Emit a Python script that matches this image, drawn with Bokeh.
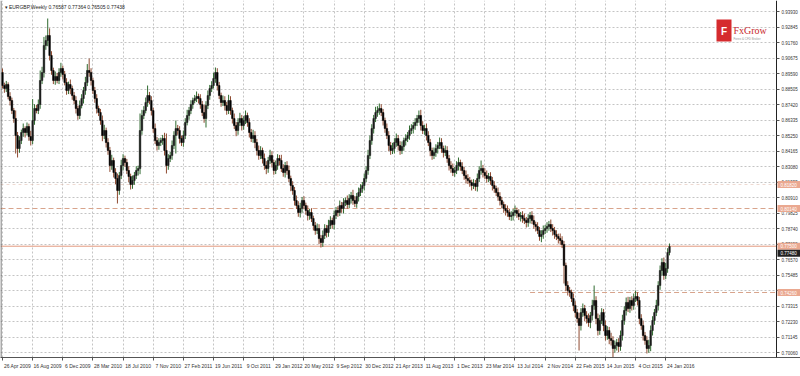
from bokeh.plotting import figure
from bokeh.models import Range1d, FixedTicker, PrintfTickFormatter, Label, Span, ColumnDataSource, BoxAnnotation
from bokeh.embed import file_html
from bokeh.resources import INLINE

# ---------------- data (EURGBP weekly) ----------------
first_open = 0.8966
close = [
    0.8875, 0.8854, 0.8882, 0.8798, 0.8770, 0.8700, 0.8644, 0.8525, 0.8434, 0.8490,
    0.8546, 0.8574, 0.8546, 0.8588, 0.8518, 0.8490, 0.8630, 0.8714, 0.8700, 0.8742,
    0.8910, 0.8966, 0.9155, 0.9190, 0.9225, 0.9085, 0.8980, 0.8910, 0.8938, 0.8910,
    0.8966, 0.8994, 0.8952, 0.8896, 0.8840, 0.8882, 0.8854, 0.8805, 0.8770, 0.8714,
    0.8665, 0.8735, 0.8784, 0.8840, 0.8896, 0.8980, 0.8966, 0.8910, 0.8840, 0.8784,
    0.8714, 0.8686, 0.8630, 0.8525, 0.8560, 0.8476, 0.8420, 0.8315, 0.8350, 0.8266,
    0.8224, 0.8140, 0.8245, 0.8315, 0.8364, 0.8336, 0.8280, 0.8238, 0.8182, 0.8210,
    0.8245, 0.8280, 0.8294, 0.8560, 0.8665, 0.8700, 0.8756, 0.8805, 0.8770, 0.8700,
    0.8574, 0.8490, 0.8455, 0.8476, 0.8490, 0.8504, 0.8420, 0.8315, 0.8364, 0.8385,
    0.8455, 0.8525, 0.8574, 0.8560, 0.8504, 0.8476, 0.8525, 0.8616, 0.8665, 0.8700,
    0.8742, 0.8770, 0.8784, 0.8798, 0.8784, 0.8742, 0.8686, 0.8644, 0.8735, 0.8805,
    0.8854, 0.8875, 0.8924, 0.8966, 0.8875, 0.8805, 0.8756, 0.8770, 0.8735, 0.8700,
    0.8770, 0.8700, 0.8644, 0.8595, 0.8560, 0.8616, 0.8644, 0.8595, 0.8630, 0.8665,
    0.8616, 0.8546, 0.8504, 0.8525, 0.8476, 0.8420, 0.8385, 0.8420, 0.8364, 0.8315,
    0.8294, 0.8350, 0.8385, 0.8336, 0.8280, 0.8315, 0.8364, 0.8350, 0.8294, 0.8266,
    0.8315, 0.8280, 0.8224, 0.8175, 0.8140, 0.8070, 0.8035, 0.7986, 0.8014, 0.8070,
    0.8035, 0.8000, 0.7965, 0.7986, 0.7944, 0.7895, 0.7860, 0.7874, 0.7804, 0.7776,
    0.7825, 0.7874, 0.7846, 0.7895, 0.7930, 0.7902, 0.7965, 0.8000, 0.7986, 0.8035,
    0.8014, 0.8056, 0.8070, 0.8042, 0.8084, 0.8105, 0.8070, 0.8049, 0.8098, 0.8126,
    0.8154, 0.8175, 0.8224, 0.8280, 0.8385, 0.8490, 0.8574, 0.8644, 0.8686, 0.8700,
    0.8714, 0.8686, 0.8630, 0.8574, 0.8525, 0.8455, 0.8420, 0.8434, 0.8476, 0.8504,
    0.8455, 0.8420, 0.8448, 0.8490, 0.8504, 0.8525, 0.8560, 0.8574, 0.8595, 0.8616,
    0.8644, 0.8665, 0.8595, 0.8560, 0.8574, 0.8525, 0.8476, 0.8420, 0.8385, 0.8406,
    0.8434, 0.8455, 0.8476, 0.8434, 0.8406, 0.8420, 0.8364, 0.8315, 0.8294, 0.8266,
    0.8280, 0.8315, 0.8336, 0.8308, 0.8280, 0.8245, 0.8224, 0.8210, 0.8196, 0.8175,
    0.8189, 0.8168, 0.8224, 0.8280, 0.8294, 0.8266, 0.8245, 0.8224, 0.8238, 0.8210,
    0.8175, 0.8154, 0.8126, 0.8098, 0.8070, 0.8042, 0.8014, 0.8000, 0.7986, 0.7958,
    0.7965, 0.7986, 0.8000, 0.7979, 0.7958, 0.7965, 0.7944, 0.7930, 0.7916, 0.7944,
    0.7965, 0.7930, 0.7902, 0.7888, 0.7860, 0.7818, 0.7832, 0.7860, 0.7874, 0.7888,
    0.7902, 0.7874, 0.7860, 0.7832, 0.7818, 0.7804, 0.7790, 0.7762, 0.7615, 0.7475,
    0.7440, 0.7426, 0.7384, 0.7335, 0.7286, 0.7244, 0.7195, 0.7286, 0.7314, 0.7265,
    0.7244, 0.7216, 0.7265, 0.7335, 0.7370, 0.7244, 0.7160, 0.7230, 0.7286, 0.7195,
    0.7125, 0.7160, 0.7104, 0.7090, 0.7034, 0.7055, 0.7076, 0.7048, 0.7125, 0.7230,
    0.7300, 0.7356, 0.7314, 0.7370, 0.7335, 0.7384, 0.7398, 0.7370, 0.7244, 0.7195,
    0.7125, 0.7090, 0.7034, 0.7055, 0.7160, 0.7230, 0.7286, 0.7335, 0.7475, 0.7580,
    0.7636, 0.7545, 0.7594, 0.7706, 0.7748,
]
upper_wick_pips = [
    28, 20, 25, 15, 30, 20, 18, 56, 25, 30,
    20, 35, 15, 28, 20, 40, 150, 30, 25, 35,
    70, 40, 60, 35, 119, 50, 30, 20, 35, 25,
    30, 40, 20, 25, 30, 20, 35, 20, 25, 30,
    20, 35, 30, 25, 40, 45, 84, 30, 20, 25,
    30, 20, 25, 35, 40, 20, 30, 25, 40, 20,
    30, 35, 25, 40, 30, 20, 25, 30, 20, 35,
    25, 30, 20, 119, 40, 30, 35, 70, 25, 30,
    20, 35, 25, 30, 20, 25, 40, 119, 30, 25,
    35, 30, 56, 25, 30, 20, 35, 30, 40, 25,
    30, 20, 25, 35, 20, 30, 25, 56, 30, 35,
    25, 30, 40, 35, 30, 25, 20, 35, 30, 25,
    40, 30, 20, 35, 25, 30, 40, 25, 30, 35,
    20, 30, 25, 40, 30, 25, 35, 30, 20, 35,
    30, 25, 40, 30, 20, 35, 30, 25, 40, 30,
    25, 30, 35, 20, 30, 25, 35, 30, 40, 25,
    30, 20, 35, 25, 30, 20, 25, 35, 30, 25,
    35, 30, 25, 40, 30, 20, 35, 25, 30, 35,
    25, 30, 20, 35, 30, 25, 40, 30, 25, 35,
    30, 25, 35, 30, 40, 35, 30, 25, 40, 30,
    35, 30, 25, 20, 35, 30, 25, 40, 30, 35,
    25, 30, 35, 20, 30, 25, 35, 30, 25, 30,
    25, 35, 40, 30, 25, 35, 30, 25, 20, 35,
    30, 25, 35, 30, 20, 35, 30, 25, 30, 35,
    25, 30, 35, 20, 30, 25, 35, 30, 25, 20,
    30, 25, 35, 30, 56, 25, 30, 35, 25, 30,
    25, 30, 20, 35, 30, 25, 20, 30, 35, 25,
    30, 25, 35, 20, 30, 25, 30, 35, 25, 30,
    25, 30, 35, 20, 30, 25, 30, 35, 25, 30,
    25, 35, 30, 25, 30, 20, 35, 30, 25, 20,
    30, 25, 20, 35, 30, 25, 40, 30, 35, 25,
    30, 35, 25, 40, 105, 30, 35, 40, 30, 25,
    35, 30, 25, 40, 30, 35, 25, 30, 35, 40,
    30, 35, 40, 25, 30, 35, 42, 30, 25, 30,
    35, 25, 30, 40, 35, 30, 25, 40, 30, 35,
    30, 35, 40, 30, 21,
]
lower_wick_pips = [
    20, 30, 25, 20, 35, 25, 30, 126, 63, 30,
    25, 30, 35, 20, 30, 35, 25, 30, 20, 25,
    30, 25, 35, 30, 40, 35, 30, 25, 30, 20,
    25, 30, 35, 20, 30, 25, 40, 30, 25, 35,
    30, 25, 20, 35, 30, 25, 30, 35, 25, 30,
    35, 25, 30, 40, 25, 35, 30, 45, 30, 35,
    40, 91, 30, 25, 35, 30, 25, 40, 35, 30,
    30, 25, 35, 40, 30, 25, 20, 30, 25, 35,
    30, 25, 35, 30, 25, 30, 35, 56, 30, 25,
    30, 25, 126, 30, 35, 25, 30, 25, 20, 30,
    25, 30, 20, 25, 35, 30, 25, 30, 63, 25,
    30, 25, 20, 30, 35, 25, 30, 25, 35, 30,
    25, 30, 35, 25, 40, 30, 25, 35, 30, 25,
    30, 35, 25, 30, 40, 35, 30, 25, 35, 30,
    40, 30, 25, 35, 30, 25, 30, 35, 25, 30,
    35, 30, 25, 40, 30, 35, 25, 30, 35, 30,
    25, 30, 35, 30, 25, 35, 30, 25, 40, 35,
    30, 25, 35, 30, 25, 30, 35, 25, 30, 25,
    30, 35, 25, 30, 25, 35, 30, 25, 30, 35,
    25, 30, 35, 25, 30, 25, 30, 35, 25, 30,
    30, 25, 35, 30, 25, 40, 30, 25, 35, 30,
    35, 30, 25, 30, 35, 25, 30, 25, 35, 30,
    25, 30, 35, 25, 30, 35, 25, 40, 30, 25,
    30, 35, 25, 30, 35, 25, 30, 35, 30, 25,
    30, 25, 35, 30, 25, 30, 35, 25, 30, 35,
    25, 30, 35, 25, 30, 35, 25, 30, 25, 30,
    35, 30, 25, 30, 35, 25, 30, 35, 30, 25,
    30, 35, 25, 30, 25, 35, 30, 25, 35, 30,
    35, 25, 30, 35, 25, 30, 40, 30, 25, 30,
    30, 25, 35, 30, 25, 35, 30, 25, 126, 40,
    35, 30, 25, 40, 35, 30, 175, 35, 30, 40,
    35, 30, 40, 35, 30, 40, 35, 30, 25, 40,
    35, 30, 40, 35, 63, 30, 35, 40, 30, 35,
    30, 35, 25, 30, 35, 30, 25, 35, 40, 30,
    35, 30, 35, 30, 40, 35, 30, 25, 35, 30,
    35, 30, 25, 30, 20,
]
date_labels = [
    "26 Apr 2009", "16 Aug 2009", "6 Dec 2009", "28 Mar 2010", "18 Jul 2010",
    "7 Nov 2010", "27 Feb 2011", "19 Jun 2011", "9 Oct 2011", "29 Jan 2012",
    "20 May 2012", "9 Sep 2012", "30 Dec 2012", "21 Apr 2013", "11 Aug 2013",
    "1 Dec 2013", "23 Mar 2014", "13 Jul 2014", "2 Nov 2014", "22 Feb 2015",
    "14 Jun 2015", "4 Oct 2015", "24 Jan 2016",
]
weeks_per_label = 16
y_ticks = [0.93930, 0.92845, 0.91760, 0.90675, 0.89590, 0.88505, 0.87420, 0.86335,
           0.85250, 0.84165, 0.83080, 0.81995, 0.80910, 0.79825, 0.78740, 0.77655,
           0.76570, 0.75485, 0.74400, 0.73315, 0.72230, 0.71145, 0.70060]
dashed_levels = [0.8182, 0.8014]
solid_level = 0.7750
partial_level = 0.7426
partial_level_start = 280
title_text = "\u25be EURGBP,Weekly  0.76587 0.77364 0.76505 0.77438"

# ---------------- derived ----------------
n = len(close)
idx = list(range(n))
opens = [first_open] + close[:-1]
highs = [max(o, c) + u * 0.0001 for o, c, u in zip(opens, close, upper_wick_pips)]
lows = [min(o, c) - l * 0.0001 for o, c, l in zip(opens, close, lower_wick_pips)]
up = [c >= o for o, c in zip(opens, close)]

W, H = 800, 376
CW, FH = 776, 357          # chart area (left of the price scale), frame height
PX_PER_BAR = 1.8842
X0 = -1.06
X1 = X0 + W / PX_PER_BAR   # frame spans the whole width; price scale sits inside it
Y_TOP, Y_BOT = 0.9470, 0.6971
PRICE_PER_PX = (Y_TOP - Y_BOT) / FH

def px_x(px):
    return X0 + px / PX_PER_BAR

def px_y(py):
    return Y_TOP - py * PRICE_PER_PX

src = ColumnDataSource(dict(
    x=idx, o=opens, c=close, h=highs, l=lows,
    top=[max(o, c) for o, c in zip(opens, close)],
    bot=[min(o, c) for o, c in zip(opens, close)],
    wick=["#2f6a2f" if u else "#8e4a30" for u in up],
    fill=["#1c1c1c" if u else "#000000" for u in up],
))

p = figure(width=W, height=H, x_range=Range1d(X0, X1), y_range=Range1d(Y_BOT, Y_TOP),
           output_backend="svg", toolbar_location=None, y_axis_location="right",
           min_border_left=0, min_border_top=0, min_border_right=0,
           min_border_bottom=H - FH)
p.background_fill_color = "white"
p.border_fill_color = "white"
p.outline_line_color = None

# x axis: MT4 style labels start at their tick, so the (centred) labels are
# placed half a label width to the right of the real tick, which is drawn as a minor tick
label_idx = [i * weeks_per_label for i in range(len(date_labels))]
CHAR_PX = 2.55
shifted = [i + round((len(t) * CHAR_PX / 2 + 1.5) / PX_PER_BAR) for i, t in zip(label_idx, date_labels)]
p.xaxis.ticker = FixedTicker(ticks=shifted, minor_ticks=label_idx)
p.xaxis.major_label_overrides = {s: t for s, t in zip(shifted, date_labels)}
p.xaxis.major_label_text_font_size = "5px"
p.xaxis.major_label_text_font = "Liberation Sans"
p.xaxis.major_label_text_color = "#333333"
p.xaxis.major_label_standoff = 2
p.xaxis.major_tick_out = 0
p.xaxis.major_tick_in = 0
p.xaxis.minor_tick_out = 3
p.xaxis.minor_tick_in = 0
p.xaxis.axis_line_color = "#555555"
p.xaxis.minor_tick_line_color = "#555555"

# price scale drawn at the right edge of the chart area
p.yaxis.fixed_location = px_x(CW)
p.yaxis.ticker = FixedTicker(ticks=y_ticks)
p.yaxis.formatter = PrintfTickFormatter(format="%.5f")
p.yaxis.major_label_text_font_size = "4.5px"
p.yaxis.major_label_text_font = "Liberation Sans"
p.yaxis.major_label_text_color = "#333333"
p.yaxis.major_tick_out = 3
p.yaxis.major_tick_in = 0
p.yaxis.minor_tick_out = 0
p.yaxis.minor_tick_in = 0
p.yaxis.major_label_standoff = 2
p.yaxis.axis_line_color = "#222222"
p.yaxis.major_tick_line_color = "#555555"

for g in (p.xgrid, p.ygrid):
    g.grid_line_color = "#c4c4c4"
    g.grid_line_dash = "2 2"
    g.grid_line_width = 1
p.xgrid.ticker = FixedTicker(ticks=label_idx)
p.ygrid.ticker = FixedTicker(ticks=y_ticks)

# level lines (underlay, so the price-scale mask covers their right ends)
p.add_layout(Span(location=dashed_levels[0], dimension="width", line_color="#e2c2b4",
                  line_dash="3 3", line_width=1, line_alpha=0.6, level="underlay"))
p.add_layout(Span(location=dashed_levels[1], dimension="width", line_color="#d8a48c",
                  line_dash="5 3", line_width=1, level="underlay"))
p.add_layout(Span(location=solid_level, dimension="width", line_color="#e39a7e",
                  line_width=1, level="underlay"))
p.line(x=[partial_level_start, px_x(CW)], y=[partial_level, partial_level],
       line_color="#d8a48c", line_dash="5 3", line_width=1)

# white mask for the price-scale strip
p.add_layout(BoxAnnotation(left=px_x(CW), right=X1, fill_color="white", fill_alpha=1,
                           line_color=None, level="underlay"))
# left border
p.add_layout(Span(location=px_x(0.5), dimension="height", line_color="#555555", line_width=1))

# candles
p.segment(x0="x", y0="l", x1="x", y1="h", source=src, line_color="wick", line_width=1)
p.vbar(x="x", width=0.85, top="top", bottom="bot", source=src,
       fill_color="fill", line_color="fill", line_width=0.5)

# price labels for levels, on the price scale (box + text)
def level_label(y, text, fg, bg):
    p.add_layout(BoxAnnotation(left=px_x(CW + 1), right=X1,
                               top=y + 3.5 * PRICE_PER_PX, bottom=y - 3.5 * PRICE_PER_PX,
                               fill_color=bg, fill_alpha=1, line_color=None))
    p.add_layout(Label(x=px_x(CW + 4), y=y, text=text, text_align="left",
                       text_baseline="middle", text_font_size="4.5px",
                       text_font="Liberation Sans", text_color=fg))

for lv in dashed_levels + [solid_level, partial_level]:
    level_label(lv, f"{lv:.5f}", "#ffffff", "#eaa890")
level_label(solid_level - 7 * PRICE_PER_PX, f"{close[-1]:.5f}", "#ffffff", "#222222")

# title
p.add_layout(Label(x=px_x(4), y=px_y(6), text=title_text, text_align="left",
                   text_baseline="middle", text_font_size="5px",
                   text_font="Liberation Sans", text_color="#222222"))

# FxGrow logo
p.add_layout(BoxAnnotation(left=px_x(716), right=px_x(731), top=px_y(19), bottom=px_y(41),
                           fill_color="#d52b2e", fill_alpha=1, line_color=None))
p.add_layout(Label(x=px_x(723.5), y=px_y(31), text="F", text_align="center",
                   text_baseline="middle", text_font_size="10px", text_font_style="bold",
                   text_font="Liberation Sans", text_color="#ffffff"))
p.add_layout(Label(x=px_x(733), y=px_y(30), text="FxGrow", text_align="left",
                   text_baseline="middle", text_font_size="10px",
                   text_font="Liberation Serif", text_color="#c8282c"))
p.add_layout(Label(x=px_x(733), y=px_y(38), text="Forex & CFD Broker", text_align="left",
                   text_baseline="middle", text_font_size="3px",
                   text_font="Liberation Sans", text_color="#999999"))

open("out.html", "w").write(file_html(p, INLINE))
